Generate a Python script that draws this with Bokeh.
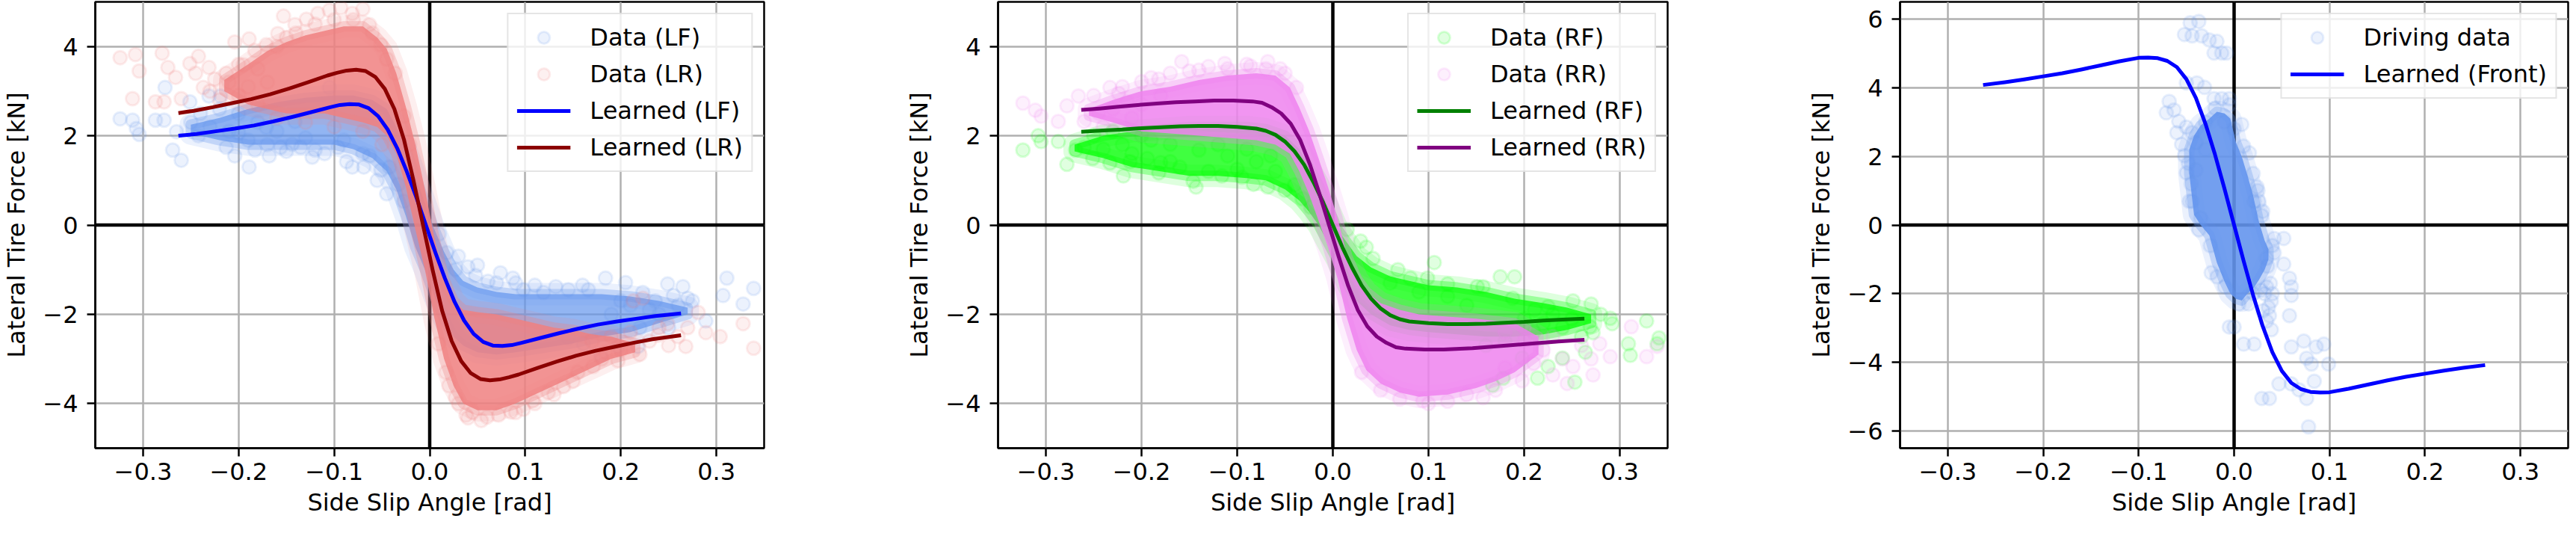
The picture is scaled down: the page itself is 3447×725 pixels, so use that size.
from bokeh.plotting import figure
from bokeh.models import (Range1d, FixedTicker, CustomJSTickFormatter, Span,
                          Legend, LegendItem)
from bokeh.layouts import row
from bokeh.embed import file_html
from bokeh.resources import INLINE

FONT = "DejaVu Sans"

# ---------------- tick values ----------------
x_ticks = [-0.3, -0.2, -0.1, 0.0, 0.1, 0.2, 0.3]
y_ticks_12 = [-4, -2, 0, 2, 4]
y_ticks_3 = [-6, -4, -2, 0, 2, 4, 6]

# ---------------- panel 1 : learned curves ----------------
lf_curve_x = [-0.263, -0.244, -0.224, -0.204, -0.184, -0.164, -0.144, -0.124, -0.104, -0.094, -0.084, -0.074,
              -0.064, -0.054, -0.044, -0.034, -0.024, -0.014, -0.004, 0.006, 0.016, 0.026, 0.036, 0.046, 0.056,
              0.066, 0.076, 0.086, 0.096, 0.116, 0.136, 0.156, 0.176, 0.196, 0.216, 0.236, 0.263]
lf_curve_y = [2.00, 2.04, 2.10, 2.16, 2.23, 2.32, 2.42, 2.53, 2.64, 2.69, 2.71, 2.70, 2.62, 2.44, 2.14, 1.72,
              1.20, 0.62, 0.00, -0.62, -1.20, -1.72, -2.14, -2.44, -2.62, -2.70, -2.71, -2.69, -2.64, -2.53,
              -2.42, -2.32, -2.23, -2.16, -2.10, -2.04, -1.98]
lr_curve_x = [-0.263, -0.247, -0.227, -0.207, -0.187, -0.167, -0.147, -0.127, -0.107, -0.097, -0.087, -0.077,
              -0.067, -0.057, -0.047, -0.037, -0.027, -0.017, -0.007, 0.003, 0.013, 0.023, 0.033, 0.043, 0.053,
              0.063, 0.073, 0.083, 0.093, 0.113, 0.133, 0.153, 0.173, 0.193, 0.213, 0.233, 0.263]
lr_curve_y = [2.51, 2.56, 2.64, 2.73, 2.82, 2.93, 3.06, 3.20, 3.35, 3.41, 3.46, 3.48, 3.45, 3.32, 3.05, 2.60,
              1.92, 1.00, 0.00, -1.00, -1.92, -2.60, -3.05, -3.32, -3.45, -3.48, -3.46, -3.41, -3.35, -3.20,
              -3.06, -2.93, -2.82, -2.73, -2.64, -2.56, -2.47]

# ---------------- panel 1 : data clouds (dense core envelopes + single points) ----------------
lf_core_x = [-0.25, -0.22, -0.19, -0.16, -0.13, -0.10, -0.08, -0.06, -0.045, -0.035, -0.025, -0.015, -0.005,
             0.005, 0.015, 0.025, 0.035, 0.05, 0.07, 0.09, 0.12, 0.15, 0.18, 0.21, 0.24, 0.27]
lf_core_hi = [2.25, 2.4, 2.6, 2.75, 2.85, 2.9, 2.9, 2.8, 2.6, 2.2, 1.7, 1.1, 0.5, -0.1, -0.6, -1.0, -1.25, -1.4,
              -1.5, -1.55, -1.55, -1.55, -1.55, -1.6, -1.7, -1.85]
lf_core_lo = [2.05, 1.9, 1.8, 1.8, 1.8, 1.8, 1.7, 1.5, 1.2, 0.8, 0.2, -0.5, -1.0, -1.6, -2.1, -2.5, -2.7, -2.85,
              -2.9, -2.85, -2.75, -2.65, -2.5, -2.4, -2.2, -2.0]
lf_x = [-0.324, -0.311, -0.307, -0.304, -0.287, -0.278, -0.277, -0.269, -0.26, -0.265, -0.251, -0.242, -0.231,
        -0.219, -0.213, -0.204, -0.189, -0.183, -0.168, -0.156, -0.144, -0.135, -0.123, -0.12, -0.105, -0.096,
        -0.087, -0.081, -0.069, -0.063, -0.051, -0.042, -0.033, -0.027, -0.2, -0.171, -0.141,
        -0.25, -0.24, -0.23, -0.22, -0.21, -0.2, -0.19, -0.18, -0.17, -0.16, -0.15, -0.13, -0.11, -0.09, -0.07,
        -0.055, -0.045,
        0.018, 0.027, 0.04, 0.048, 0.061, 0.074, 0.087, 0.098, 0.119, 0.132, 0.145, 0.166, 0.184, 0.205, 0.223,
        0.249, 0.265, 0.275, 0.289, 0.311, 0.307, 0.328, 0.339, 0.27, 0.255, 0.236, 0.218, 0.197, 0.179, 0.161,
        0.145, 0.2, 0.22, 0.24, 0.26, 0.23, 0.25, 0.19, 0.21, 0.01, 0.03, 0.05, 0.07, 0.09, 0.11, 0.16]
lf_y = [2.38, 2.35, 2.16, 2.03, 2.35, 2.35, 3.08, 1.68, 1.45, 2.09, 2.76, 2.0, 2.89, 2.89, 1.74, 1.55, 1.30, 1.68,
        1.55, 1.74, 1.81, 1.74, 1.52, 1.68, 3.08, 1.74, 1.42, 1.30, 1.30, 1.55, 1.23, 1.30, 0.91, 0.53, 2.06, 2.19,
        2.32,
        2.3, 2.5, 2.2, 2.6, 2.1, 2.5, 1.9, 2.3, 1.8, 2.1, 1.65, 1.95, 1.6, 1.9, 1.6, 1.0, 0.7,
        -0.62, -1.0, -0.94, -1.13, -1.26, -1.07, -1.19, -1.45, -1.51, -1.38, -1.45, -1.45, -1.19, -1.29, -1.51,
        -1.32, -1.38, -1.70, -2.15, -1.19, -1.58, -1.77, -1.42, -1.64, -1.58, -1.70, -2.72, -2.72, -2.92, -2.66,
        -2.53, -1.7, -2.3, -2.0, -1.8, -1.9, -2.3, -2.0, -1.8, -0.2, -0.7, -0.9, -1.3, -1.3, -1.35, -1.35]

lr_core_x = [-0.215, -0.19, -0.17, -0.15, -0.13, -0.11, -0.09, -0.07, -0.055, -0.045, -0.035, -0.025, -0.015,
             -0.005, 0.005, 0.015, 0.025, 0.035, 0.05, 0.07, 0.09, 0.11, 0.13, 0.15, 0.17, 0.19, 0.215]
lr_core_hi = [3.25, 3.6, 3.9, 4.1, 4.25, 4.35, 4.45, 4.45, 4.2, 3.95, 3.4, 2.65, 1.8, 0.8, -0.3, -1.2, -1.7,
              -1.9, -1.95, -2.0, -2.1, -2.2, -2.3, -2.35, -2.45, -2.5, -2.65]
lr_core_lo = [3.0, 2.7, 2.6, 2.5, 2.5, 2.5, 2.4, 2.3, 2.2, 2.0, 1.6, 0.85, -0.1, -1.0, -2.1, -3.0, -3.6, -4.0,
              -4.15, -4.15, -4.0, -3.8, -3.6, -3.4, -3.2, -3.0, -2.85]
lr_x = [-0.324, -0.308, -0.304, -0.28, -0.274, -0.311, -0.287, -0.278, -0.266, -0.251, -0.242, -0.231, -0.225,
        -0.213, -0.26, -0.245, -0.237, -0.204, -0.189, -0.183, -0.195, -0.171, -0.159, -0.153, -0.141, -0.129,
        -0.117, -0.105, -0.093, -0.081, -0.07, -0.063, -0.051, -0.045, -0.036, -0.027, -0.021,
        -0.23, -0.22, -0.21, -0.2, -0.2, -0.19, -0.18, -0.18, -0.17, -0.16, -0.15, -0.14, -0.12, -0.1, -0.08,
        -0.06, -0.16, -0.13, -0.1, -0.07, -0.05,
        0.281, 0.289, 0.304, 0.328, 0.339, 0.268, 0.249, 0.239, 0.223, 0.213, 0.197, 0.184, 0.171, 0.155, 0.14,
        0.124, 0.108, 0.098, 0.085, 0.072, 0.054, 0.038, 0.027, 0.04, 0.017, 0.009,
        0.17, 0.18, 0.19, 0.2, 0.21, 0.22, 0.23, 0.24, 0.25, 0.26, 0.27, 0.15, 0.13, 0.11, 0.09, 0.06, 0.045,
        0.03, 0.02]
lr_y = [3.75, 3.82, 3.45, 3.85, 3.53, 2.83, 2.76, 2.76, 3.31, 3.62, 3.78, 3.53, 3.27, 3.40, 2.83, 3.40, 3.08,
        4.10, 4.17, 3.91, 3.59, 4.04, 4.29, 4.68, 4.49, 4.61, 4.74, 4.81, 4.87, 4.74, 4.84, 4.49, 4.04, 3.72,
        3.40, 2.44, 1.81,
        3.0, 2.8, 3.2, 2.9, 3.6, 3.1, 2.7, 3.5, 3.2, 4.0, 4.2, 4.3, 4.5, 4.6, 4.6, 4.3, 2.4, 2.3, 2.2, 2.1, 1.8,
        -1.96, -2.41, -2.50, -2.21, -2.76, -2.72, -2.21, -2.47, -1.64, -1.70, -3.04, -2.85, -3.17, -3.30, -3.62,
        -3.75, -3.94, -4.13, -4.19, -4.26, -4.38, -4.26, -3.87, -4.32, -3.30, -2.66,
        -2.6, -3.0, -2.5, -2.8, -2.4, -2.9, -2.6, -2.3, -2.7, -2.5, -2.3, -3.5, -3.8, -4.0, -4.2, -4.3, -4.2,
        -4.0, -3.6]

# ---------------- panel 2 : learned curves ----------------
rf_curve_x = [-0.263, -0.24, -0.22, -0.20, -0.18, -0.16, -0.14, -0.12, -0.10, -0.08, -0.07, -0.06, -0.05, -0.04,
              -0.03, -0.02, -0.01, 0.0, 0.01, 0.02, 0.03, 0.04, 0.05, 0.06, 0.07, 0.08, 0.10, 0.12, 0.14, 0.16,
              0.18, 0.20, 0.22, 0.24, 0.263]
rf_curve_y = [2.09, 2.12, 2.14, 2.17, 2.19, 2.21, 2.22, 2.22, 2.20, 2.16, 2.11, 2.02, 1.87, 1.65, 1.35, 0.95,
              0.50, 0.0, -0.50, -0.95, -1.35, -1.65, -1.87, -2.02, -2.11, -2.16, -2.20, -2.22, -2.22, -2.21,
              -2.19, -2.17, -2.14, -2.12, -2.10]
rr_curve_x = [-0.263, -0.244, -0.224, -0.204, -0.184, -0.164, -0.144, -0.124, -0.104, -0.084, -0.074, -0.064,
              -0.054, -0.044, -0.034, -0.024, -0.014, -0.004, 0.006, 0.016, 0.026, 0.036, 0.046, 0.056, 0.066,
              0.076, 0.096, 0.116, 0.146, 0.176, 0.206, 0.236, 0.263]
rr_curve_y = [2.58, 2.61, 2.65, 2.69, 2.72, 2.75, 2.77, 2.79, 2.79, 2.77, 2.74, 2.64, 2.50, 2.27, 1.90, 1.36,
              0.70, 0.0, -0.70, -1.36, -1.90, -2.27, -2.50, -2.64, -2.74, -2.77, -2.79, -2.79, -2.76, -2.71,
              -2.66, -2.61, -2.57]

# ---------------- panel 2 : data clouds ----------------
rf_core_x = [-0.27, -0.24, -0.21, -0.18, -0.15, -0.12, -0.09, -0.07, -0.05, -0.035, -0.025, -0.015, -0.005,
             0.005, 0.015, 0.025, 0.04, 0.06, 0.08, 0.10, 0.13, 0.16, 0.19, 0.22, 0.245, 0.27]
rf_core_hi = [1.8, 2.0, 2.1, 2.15, 2.2, 2.2, 2.2, 2.15, 2.0, 1.7, 1.3, 0.9, 0.4, -0.1, -0.4, -0.7, -0.95, -1.15,
              -1.25, -1.35, -1.4, -1.5, -1.65, -1.75, -1.85, -2.0]
rf_core_lo = [1.65, 1.5, 1.3, 1.2, 1.1, 1.1, 1.05, 1.0, 0.8, 0.55, 0.3, 0.0, -0.4, -0.8, -1.3, -1.7, -2.0,
              -2.25, -2.35, -2.4, -2.45, -2.5, -2.5, -2.45, -2.35, -2.2]
rf_x = [-0.324, -0.308, -0.305, -0.278, -0.287, -0.269, -0.26, -0.251, -0.233, -0.219, -0.212, -0.194, -0.182,
        -0.17, -0.146, -0.143, -0.116, -0.095, -0.083, -0.068, -0.05, -0.032, -0.023, -0.2, -0.17, -0.14, -0.11,
        -0.08, -0.065, -0.25, -0.24, -0.23, -0.22, -0.21, -0.19, -0.18, -0.16, -0.13, -0.12, -0.1, -0.09, -0.06,
        -0.04,
        0.029, 0.042, 0.068, 0.081, 0.106, 0.099, 0.12, 0.151, 0.157, 0.175, 0.19, 0.188, 0.211, 0.225, 0.251,
        0.27, 0.269, 0.29, 0.292, 0.309, 0.311, 0.328, 0.341, 0.339, 0.253, 0.214, 0.178, 0.167, 0.24, 0.264,
        0.198, 0.225, 0.272, 0.2, 0.21, 0.22, 0.23, 0.24, 0.25, 0.26, 0.28, 0.18, 0.16, 0.14, 0.12, 0.09, 0.06,
        0.035, 0.015]
rf_y = [1.68, 2.0, 1.87, 1.36, 1.87, 1.68, 1.74, 1.49, 1.39, 1.10, 1.42, 1.49, 1.17, 1.42, 0.98, 0.85, 1.10,
        1.07, 0.91, 0.85, 0.78, 0.59, 0.40, 2.0, 1.81, 1.68, 1.55, 1.42, 1.55, 2.0, 1.7, 2.1, 1.8, 1.6, 1.9, 1.4,
        1.3, 1.2, 1.8, 1.25, 1.7, 1.2, 0.9,
        -0.36, -0.75, -1.0, -1.19, -0.84, -1.19, -1.32, -1.38, -1.38, -1.16, -1.16, -1.64, -1.90, -1.83, -1.70,
        -1.77, -2.28, -2.09, -2.21, -2.66, -2.92, -2.15, -2.53, -2.66, -3.52, -3.43, -3.43, -3.59, -2.98, -2.85,
        -2.98, -3.17, -2.41, -2.1, -2.4, -2.2, -2.0, -2.3, -2.1, -2.5, -2.0, -2.6, -2.7, -1.8, -1.6, -1.5, -1.3,
        -0.5, -0.1]

rr_core_x = [-0.255, -0.23, -0.2, -0.17, -0.14, -0.11, -0.08, -0.06, -0.045, -0.035, -0.025, -0.015, -0.005,
             0.005, 0.015, 0.025, 0.035, 0.05, 0.07, 0.09, 0.12, 0.15, 0.17, 0.19, 0.215]
rr_core_hi = [2.6, 2.8, 3.0, 3.1, 3.25, 3.35, 3.4, 3.35, 3.08, 2.63, 2.12, 1.5, 0.85, 0.15, -0.7, -1.2, -1.5,
              -1.75, -1.9, -2.0, -2.05, -2.1, -2.15, -2.2, -2.5]
rr_core_lo = [2.45, 2.3, 2.1, 2.05, 2.0, 1.95, 1.9, 1.8, 1.6, 1.2, 0.7, 0.1, -0.5, -1.2, -2.1, -2.8, -3.25,
              -3.55, -3.75, -3.85, -3.8, -3.65, -3.5, -3.3, -2.9]
rr_x = [-0.324, -0.311, -0.305, -0.278, -0.287, -0.266, -0.26, -0.233, -0.224, -0.2, -0.182, -0.158, -0.14,
        -0.113, -0.086, -0.068, -0.05, -0.038, -0.245, -0.215, -0.25, -0.24, -0.23, -0.22, -0.21, -0.2, -0.19,
        -0.18, -0.17, -0.15, -0.13, -0.11, -0.09, -0.07, -0.055,
        0.312, 0.328, 0.339, 0.29, 0.272, 0.245, 0.23, 0.198, 0.157, 0.094, 0.279, 0.251, 0.2, 0.21, 0.22, 0.23,
        0.24, 0.26, 0.27, 0.18, 0.17, 0.14, 0.12, 0.1, 0.07, 0.05, 0.03, 0.2, 0.18]
rr_y = [2.73, 2.57, 2.44, 2.67, 2.32, 2.89, 2.32, 3.08, 2.95, 3.21, 3.27, 3.66, 3.47, 3.62, 3.56, 3.66, 3.40,
        3.08, 2.51, 2.76, 2.9, 2.2, 2.6, 3.1, 2.4, 2.7, 3.3, 2.9, 3.4, 3.45, 3.55, 3.5, 3.6, 3.5, 3.5,
        -2.28, -2.95, -2.72, -2.95, -3.36, -3.55, -3.36, -3.49, -3.87, -3.94, -2.66, -3.17, -2.6, -3.1, -2.8,
        -2.5, -3.0, -2.7, -3.0, -3.2, -3.7, -3.8, -3.95, -4.0, -3.9, -3.7, -3.3, -2.3, -2.4]

# ---------------- panel 3 ----------------
front_curve_x = [-0.263, -0.24, -0.22, -0.20, -0.18, -0.16, -0.14, -0.12, -0.10, -0.09, -0.08, -0.07, -0.06,
                 -0.05, -0.04, -0.03, -0.02, -0.01, 0.0, 0.01, 0.02, 0.03, 0.04, 0.05, 0.06, 0.07, 0.08, 0.09,
                 0.10, 0.12, 0.14, 0.16, 0.18, 0.20, 0.22, 0.24, 0.263]
front_curve_y = [4.08, 4.16, 4.24, 4.33, 4.42, 4.53, 4.65, 4.77, 4.87, 4.88, 4.86, 4.78, 4.60, 4.25, 3.70, 2.95,
                 2.05, 1.05, 0.0, -1.05, -2.05, -2.95, -3.70, -4.25, -4.60, -4.78, -4.86, -4.88, -4.87, -4.77,
                 -4.65, -4.53, -4.42, -4.33, -4.24, -4.16, -4.08]
dd_core_x = [-0.047, -0.042, -0.035, -0.026, -0.018, -0.01, -0.004, 0.002, 0.008, 0.014, 0.02, 0.026, 0.032,
             0.036]
dd_core_hi = [2.2, 2.6, 2.9, 3.1, 3.3, 3.25, 3.1, 2.4, 2.0, 1.45, 0.85, 0.1, -0.45, -0.7]
dd_core_lo = [1.5, 0.3, 0.0, -0.3, -1.1, -1.65, -2.0, -2.15, -2.2, -2.0, -1.85, -1.6, -1.3, -1.0]
dd_x = [-0.046, -0.037, -0.052, -0.044, -0.034, -0.026, -0.018, -0.021, -0.013, -0.008, -0.05, -0.039, -0.031,
        -0.021, -0.013, -0.005, -0.068, -0.071, -0.063, -0.058, -0.05, -0.044, -0.055, -0.052, 0.008, 0.016,
        0.024, 0.026, -0.044, -0.037, 0.042, 0.052, 0.042, 0.052, 0.058, 0.06, 0.06, 0.058, -0.018, 0.0, -0.005,
        0.01, 0.021, 0.039, 0.037, 0.039, 0.034, 0.06, 0.073, 0.086, 0.094, 0.076, 0.081, 0.099, 0.047, 0.06,
        0.084, 0.076, 0.029, 0.037, 0.078, 0.068, -0.06, -0.05, -0.047, 0.021, 0.029, 0.034, -0.024,
        0.032, 0.036, 0.034, 0.04, 0.03, 0.038, 0.028, -0.048, -0.045, -0.04, -0.03, -0.02, -0.01, 0.0, 0.01,
        0.02, 0.03, 0.04, 0.035, 0.02, 0.005, -0.01, -0.025, -0.035, -0.04, 0.015, -0.005, -0.03, 0.025]
dd_y = [5.89, 5.93, 5.55, 5.51, 5.51, 5.39, 5.35, 5.01, 5.01, 5.01, 4.14, 4.14, 4.01, 3.68, 3.68, 3.68, 3.60,
        3.27, 3.35, 3.02, 2.85, 2.69, 2.35, 2.02, 2.93, 2.10, 1.11, 0.69, 0.69, -0.14, -0.39, -0.39, -0.81,
        -1.14, -1.55, -1.80, -2.05, -2.64, -1.51, -2.97, -2.97, -3.47, -3.47, -3.05, -2.64, -2.22, -1.80, -3.55,
        -3.38, -3.55, -3.47, -3.88, -4.05, -4.05, -4.63, -4.63, -4.55, -5.05, -5.05, -5.05, -5.88, -4.80, 2.69,
        1.52, 0.69, 0.69, 0.27, -0.97, -1.39,
        -2.0, -2.4, -2.8, -2.0, -2.5, -1.7, -1.9, 1.8, 1.2, 2.4, 3.0, 3.4, 3.0, 2.8, 2.3, 1.5, 0.4, -0.6, -1.2,
        -2.0, -2.3, -1.8, -0.6, 0.2, 1.6, -2.3, 3.5, 2.2, 1.0]


def make_fig(ylim, yticks, b_left, b_right, f_width):
    p = figure(frame_width=f_width, frame_height=597, x_range=Range1d(-0.35, 0.35),
               y_range=Range1d(ylim[0], ylim[1]), output_backend="svg", toolbar_location=None,
               min_border_left=b_left, min_border_right=b_right, min_border_top=2, min_border_bottom=110,
               background_fill_color="white", border_fill_color="white")
    p.outline_line_color = "black"
    p.outline_line_width = 2.5
    p.outline_line_alpha = 1.0
    p.xaxis.ticker = FixedTicker(ticks=x_ticks)
    p.yaxis.ticker = FixedTicker(ticks=yticks)
    p.xaxis.formatter = CustomJSTickFormatter(
        code="const s = Math.abs(tick).toFixed(1); return (tick < -1e-9 ? '\u2212' : '') + s;")
    p.yaxis.formatter = CustomJSTickFormatter(
        code="const s = Math.abs(tick).toFixed(0); return (tick < -1e-9 ? '\u2212' : '') + s;")
    for ax in (p.xaxis[0], p.yaxis[0]):
        ax.axis_line_width = 2.5
        ax.axis_line_color = "black"
        ax.major_tick_line_width = 2.5
        ax.major_tick_line_color = "black"
        ax.major_tick_in = 0
        ax.major_tick_out = 11
        ax.minor_tick_line_color = None
        ax.major_label_text_font = FONT
        ax.major_label_text_font_size = "32px"
        ax.major_label_text_color = "black"
        ax.axis_label_text_font = FONT
        ax.axis_label_text_font_size = "32px"
        ax.axis_label_text_font_style = "normal"
        ax.axis_label_text_color = "black"
    p.xaxis.axis_label = "Side Slip Angle [rad]"
    p.yaxis.axis_label = "Lateral Tire Force [kN]"
    p.xaxis.major_label_standoff = 8
    p.xaxis.axis_label_standoff = 8
    p.yaxis.major_label_standoff = 12
    p.yaxis.axis_label_standoff = 13
    p.grid.grid_line_color = "#b0b0b0"
    p.grid.grid_line_width = 2.5
    p.add_layout(Span(location=0, dimension="width", line_color="black", line_width=4.5, level="underlay"))
    p.add_layout(Span(location=0, dimension="height", line_color="black", line_width=4.5, level="underlay"))
    return p


def cloud(p, cx, lo, hi, px, py, color, core_alpha):
    # dense part of the point cloud: envelope, with soft (blurred) rim
    poly_x = list(cx) + list(cx)[::-1]
    poly_y = list(hi) + list(lo)[::-1]
    p.patch(x=poly_x, y=poly_y, fill_alpha=0, line_color=color, line_width=30, line_alpha=0.13,
            line_join="round")
    p.patch(x=poly_x, y=poly_y, fill_color=color, fill_alpha=core_alpha, line_color=color,
            line_width=14, line_alpha=0.3, line_join="round")
    return p.scatter(x=px, y=py, marker="circle", size=18, fill_color=color, line_color=color,
                     fill_alpha=0.12, line_alpha=0.14, line_width=3)


def add_legend(p, items):
    leg = Legend(items=[LegendItem(label=l, renderers=[r]) for l, r in items], location="top_right")
    leg.label_text_font = FONT
    leg.label_text_font_size = "32px"
    leg.label_text_color = "black"
    leg.glyph_width = 72
    leg.glyph_height = 40
    leg.label_height = 40
    leg.label_standoff = 26
    leg.spacing = 9
    leg.padding = 11
    leg.margin = 15
    leg.border_line_color = "#cccccc"
    leg.border_line_width = 2.5
    leg.background_fill_color = "white"
    leg.background_fill_alpha = 0.8
    p.add_layout(leg)


# ---- panel 1
p1 = make_fig((-5, 5), y_ticks_12, 120, 100, 895)
s_lf = cloud(p1, lf_core_x, lf_core_lo, lf_core_hi, lf_x, lf_y, "#6495ED", 0.7)
s_lr = cloud(p1, lr_core_x, lr_core_lo, lr_core_hi, lr_x, lr_y, "#F08080", 0.85)
l_lf = p1.line(lf_curve_x, lf_curve_y, line_color="blue", line_width=5, line_join="round")
l_lr = p1.line(lr_curve_x, lr_curve_y, line_color="#8B0000", line_width=5, line_join="round")
add_legend(p1, [("Data (LF)", s_lf), ("Data (LR)", s_lr), ("Learned (LF)", l_lf), ("Learned (LR)", l_lr)])

# ---- panel 2
p2 = make_fig((-5, 5), y_ticks_12, 213, 100, 896)
s_rf = cloud(p2, rf_core_x, rf_core_lo, rf_core_hi, rf_x, rf_y, "#00FF00", 0.75)
s_rr = cloud(p2, rr_core_x, rr_core_lo, rr_core_hi, rr_x, rr_y, "#EE82EE", 0.85)
l_rf = p2.line(rf_curve_x, rf_curve_y, line_color="green", line_width=5, line_join="round")
l_rr = p2.line(rr_curve_x, rr_curve_y, line_color="purple", line_width=5, line_join="round")
add_legend(p2, [("Data (RF)", s_rf), ("Data (RR)", s_rr), ("Learned (RF)", l_rf), ("Learned (RR)", l_rr)])

# ---- panel 3
p3 = make_fig((-6.5, 6.5), y_ticks_3, 211, 2, 894)
s_dd = cloud(p3, dd_core_x, dd_core_lo, dd_core_hi, dd_x, dd_y, "#6495ED", 0.9)
l_fr = p3.line(front_curve_x, front_curve_y, line_color="blue", line_width=5, line_join="round")
add_legend(p3, [("Driving data", s_dd), ("Learned (Front)", l_fr)])

layout = row(p1, p2, p3)
open("out.html", "w").write(file_html(layout, INLINE))
